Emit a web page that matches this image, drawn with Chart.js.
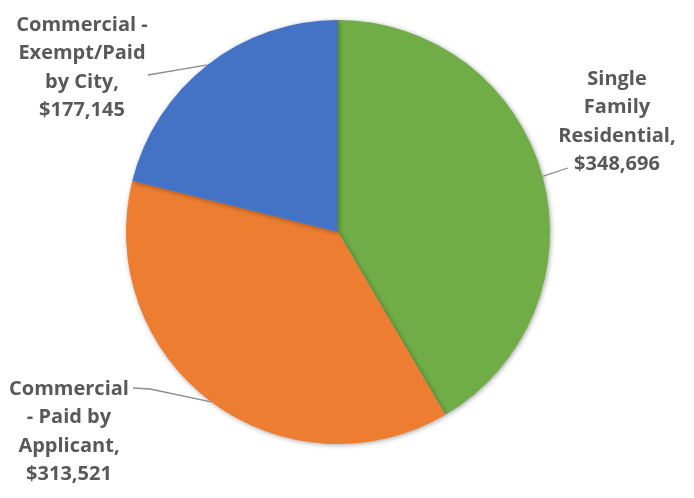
<!DOCTYPE html>
<html>
<head>
<meta charset="utf-8">
<script src="https://cdn.jsdelivr.net/npm/chart.js@4"></script>
<style>
html,body{margin:0;padding:0;background:#fff;}
#wrap{width:694px;height:498px;}
</style>
</head>
<body>
<div id="wrap"><canvas id="c" width="694" height="498"></canvas></div>
<script>
const categories = ["Single Family Residential", "Commercial - Paid by Applicant", "Commercial - Exempt/Paid by City"];
const values = [348696, 313521, 177145];
const colors = ["#70AD47", "#ED7D31", "#4472C4"];
const labelLines = [
  ["Single", "Family", "Residential,", "$348,696"],
  ["Commercial", "- Paid by", "Applicant,", "$313,521"],
  ["Commercial -", "Exempt/Paid", "by City,", "$177,145"]
];
// label layout (style/position only)
const labelPos = [
  {x: 617, y: 79, lineEnd: [568, 168], elbow: null},
  {x: 69, y: 389, lineEnd: [133, 388], elbow: [150, 389]},
  {x: 82, y: 25, lineEnd: [148, 75], elbow: null}
];

const shadowPlugin = {
  id: 'shadow',
  beforeDatasetsDraw(chart) {
    const ctx = chart.ctx;
    ctx.save();
    ctx.shadowColor = 'rgba(0,0,0,0.35)';
    ctx.shadowBlur = 5;
    ctx.shadowOffsetX = 1;
    ctx.shadowOffsetY = 1;
  },
  afterDatasetsDraw(chart) {
    chart.ctx.restore();
  }
};

const labelPlugin = {
  id: 'labels',
  afterDatasetsDraw(chart) {
    const ctx = chart.ctx;
    const meta = chart.getDatasetMeta(0);
    ctx.save();
    meta.data.forEach((arc, i) => {
      const p = arc.getProps(['x','y','startAngle','endAngle','outerRadius'], true);
      const mid = (p.startAngle + p.endAngle) / 2;
      const ax = p.x + Math.cos(mid) * p.outerRadius;
      const ay = p.y + Math.sin(mid) * p.outerRadius;
      const lp = labelPos[i];
      ctx.strokeStyle = '#8C8C8C';
      ctx.lineWidth = 1.3;
      ctx.beginPath();
      ctx.moveTo(ax, ay);
      if (lp.elbow) ctx.lineTo(lp.elbow[0], lp.elbow[1]);
      ctx.lineTo(lp.lineEnd[0], lp.lineEnd[1]);
      ctx.stroke();
      ctx.fillStyle = '#595959';
      ctx.font = 'bold 20px "Open Sans"';
      ctx.textAlign = 'center';
      ctx.textBaseline = 'middle';
      labelLines[i].forEach((t, k) => {
        ctx.fillText(t, lp.x, lp.y + k * 28.5);
      });
    });
    ctx.restore();
  }
};

new Chart(document.getElementById('c'), {
  type: 'pie',
  data: {
    labels: categories,
    datasets: [{
      data: values,
      backgroundColor: colors,
      borderWidth: 0
    }]
  },
  options: {
    responsive: false,
    animation: false,
    layout: {padding: {top: 20, bottom: 54, left: 0, right: 18}},
    plugins: {legend: {display: false}, tooltip: {enabled: false}}
  },
  plugins: [shadowPlugin, labelPlugin]
});
</script>
</body>
</html>
